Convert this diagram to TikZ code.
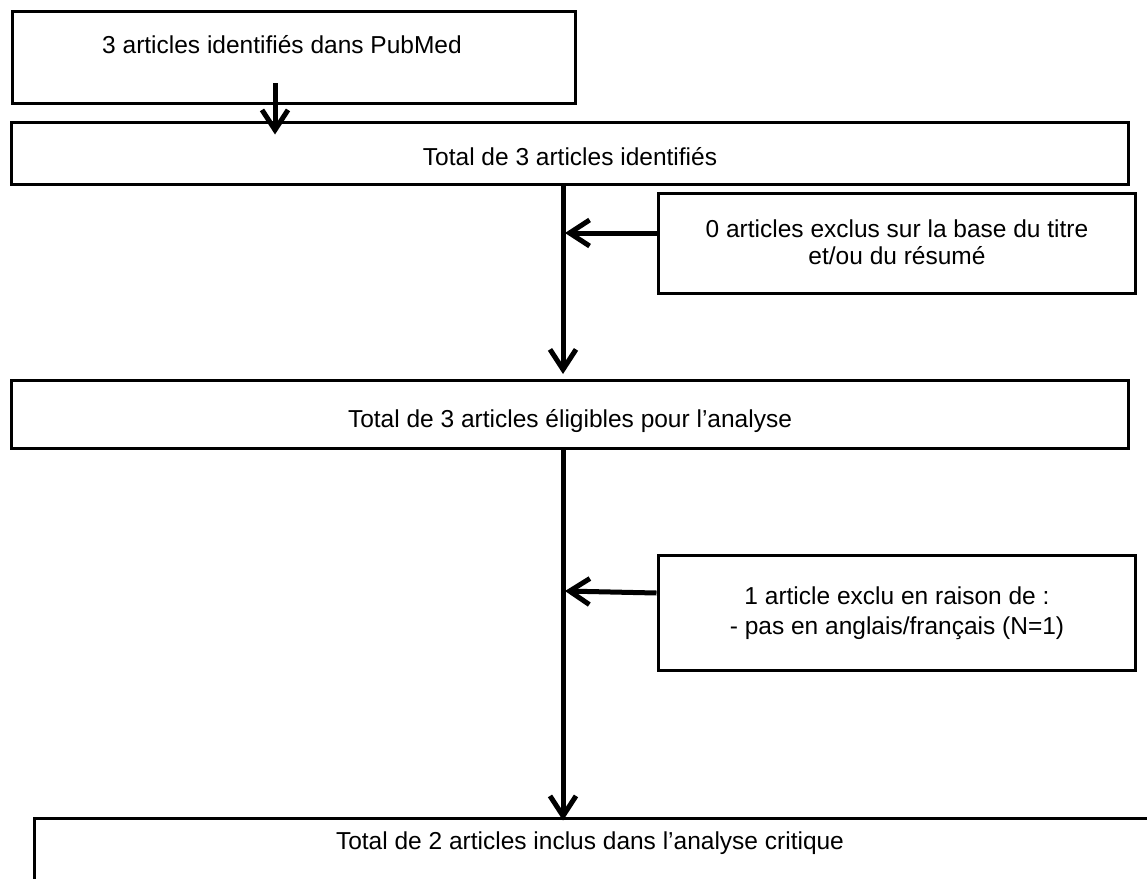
\documentclass[tikz,border=0pt]{standalone}
\usepackage{fontspec}
\setmainfont{Liberation Sans}
\usetikzlibrary{arrows.meta,calc}
\begin{document}
\begin{tikzpicture}[x=1pt,y=-1pt,
  box/.style={draw, line width=3pt, inner sep=0pt},
  lbl/.style={font=\fontsize{24.5}{27}\selectfont, align=center, inner sep=0pt},
  flow/.style={line width=5pt, -{Straight Barb[length=20pt,width=26pt,line width=5pt]}},
  trunk/.style={line width=5pt}]
\useasboundingbox (0,0) rectangle (1147,878);
\clip (0,0) rectangle (1147,878);
% boxes
\node[box, minimum width=563pt, minimum height=91.5pt] (b1) at (293.5,57.25) {};
\node[lbl] (t1) at (282,45) {3 articles identifiés dans PubMed};
\node[box, minimum width=1117pt, minimum height=62pt] (b2) at (569.5,153) {};
\node[lbl] (t2) at (570,157) {Total de 3 articles identifiés};
\node[box, minimum width=477pt, minimum height=100pt] (e1) at (896.5,243) {};
\node[lbl] (te1) at (897,242) {0 articles exclus sur la base du titre\\et/ou du résumé};
\node[box, minimum width=1117pt, minimum height=67.5pt] (b3) at (569.5,414.25) {};
\node[lbl] (t3) at (570,421) {Total de 3 articles éligibles pour l’analyse};
\node[box, minimum width=477pt, minimum height=115pt] (e2) at (896.5,612.5) {};
\node[lbl, font=\fontsize{24.5}{30}\selectfont] (te2) at (897,613) {1 article exclu en raison de :\\- pas en anglais/français (N=1)};
\node[box, minimum width=1140pt, minimum height=90pt] (b4) at (604,863) {};
\node[lbl] (t4) at (590,843) {Total de 2 articles inclus dans l’analyse critique};
% connectors
\coordinate (a1s) at (275,83);
\draw[flow] (a1s) -- ($(a1s |- b2.north)+(0,14)$);
\draw[flow] (b2.south -| 563,0) -- ($(b3.north -| 563,0)+(0,-5)$);
\draw[flow] (e1.west |- 0,233) -- (565,233);
\draw[trunk] (b3.south -| 563,0) -- (563,700);
\draw[flow] (563,700) -- ($(b4.north -| 563,0)+(0,4)$);
\draw[flow] (e2.west |- 0,593) -- (565,591);
\end{tikzpicture}
\end{document}
